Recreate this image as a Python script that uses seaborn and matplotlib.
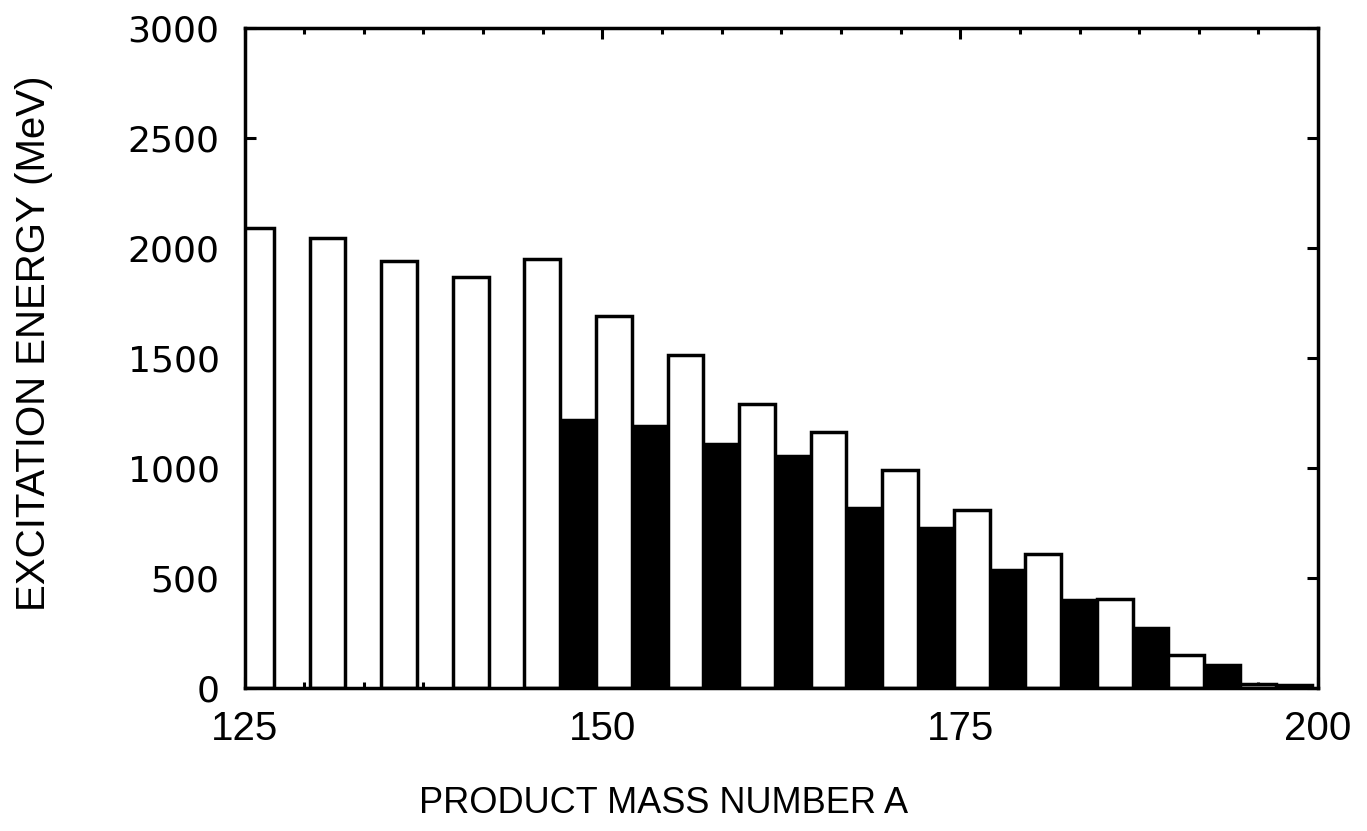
import matplotlib
matplotlib.use("Agg")
import matplotlib.pyplot as plt
import seaborn as sns
import pandas as pd
from matplotlib.ticker import MultipleLocator, FixedLocator

# ---- data ----
white_mass = [125.8, 130.8, 135.8, 140.8, 145.8, 150.8, 155.8, 160.8,
              165.8, 170.8, 175.8, 180.8, 185.8, 190.8, 195.8]
white_energy = [2090, 2045, 1940, 1870, 1950, 1690, 1515, 1290,
                1165, 990, 810, 610, 405, 150, 20]

black_mass = [148.3, 153.3, 158.3, 163.3, 168.3, 173.3, 178.3, 183.3,
              188.3, 193.3, 198.3]
black_energy = [1220, 1190, 1110, 1055, 820, 725, 535, 400, 272, 105, 12]

x_ticks = [125, 150, 175, 200]
y_ticks = [0, 500, 1000, 1500, 2000, 2500, 3000]

sns.set_style("ticks")
plt.rcParams["font.family"] = ["Liberation Sans", "DejaVu Sans"]
plt.rcParams["text.color"] = "black"
plt.rcParams["axes.labelcolor"] = "black"

fig = plt.figure(figsize=(13.67, 8.31), dpi=100)
ax = fig.add_axes([0.1789, 0.1721, 0.9642 - 0.1789, 0.9663 - 0.1721])

df_b = pd.DataFrame({"A": black_mass, "E": black_energy})
df_w = pd.DataFrame({"A": white_mass, "E": white_energy})

sns.barplot(data=df_b, x="A", y="E", native_scale=True, orient="x",
            width=0.5, color="black", edgecolor="black", linewidth=2.5,
            saturation=1, errorbar=None, ax=ax)
sns.barplot(data=df_w, x="A", y="E", native_scale=True, orient="x",
            width=0.5, color="white", edgecolor="black", linewidth=2.5,
            saturation=1, errorbar=None, ax=ax)

ax.set_xlim(125, 200)
ax.set_ylim(0, 3000)

ax.xaxis.set_major_locator(FixedLocator(x_ticks))
ax.xaxis.set_minor_locator(MultipleLocator(25 / 6))
ax.yaxis.set_major_locator(FixedLocator(y_ticks))
ax.set_xticklabels([str(t) for t in x_ticks])
ax.set_yticklabels([str(t) for t in y_ticks])

for s in ax.spines.values():
    s.set_visible(True)
    s.set_linewidth(2.5)
    s.set_color("black")

ax.tick_params(axis="x", which="major", direction="in", top=True, bottom=True,
               length=8, width=2.2, pad=16, labelsize=29, colors="black")
ax.tick_params(axis="x", which="minor", direction="in", top=True, bottom=True,
               length=4.5, width=2.2, colors="black")
ax.tick_params(axis="y", which="major", direction="in", left=True, right=True,
               length=8, width=2.2, pad=18, colors="black")
for lab in ax.get_yticklabels():
    lab.set_fontfamily("DejaVu Sans")
    lab.set_fontsize(26)
    lab.set_fontweight("medium")

ax.set_xlabel("PRODUCT MASS NUMBER A", fontsize=26, color="black")
ax.set_ylabel("EXCITATION ENERGY (MeV)", fontsize=29, color="black")
ax.xaxis.set_label_coords(0.39, -0.148)
ax.yaxis.set_label_coords(-0.178, 0.522)
ax.grid(False)

fig.savefig("out.png", dpi=100, facecolor="white")
